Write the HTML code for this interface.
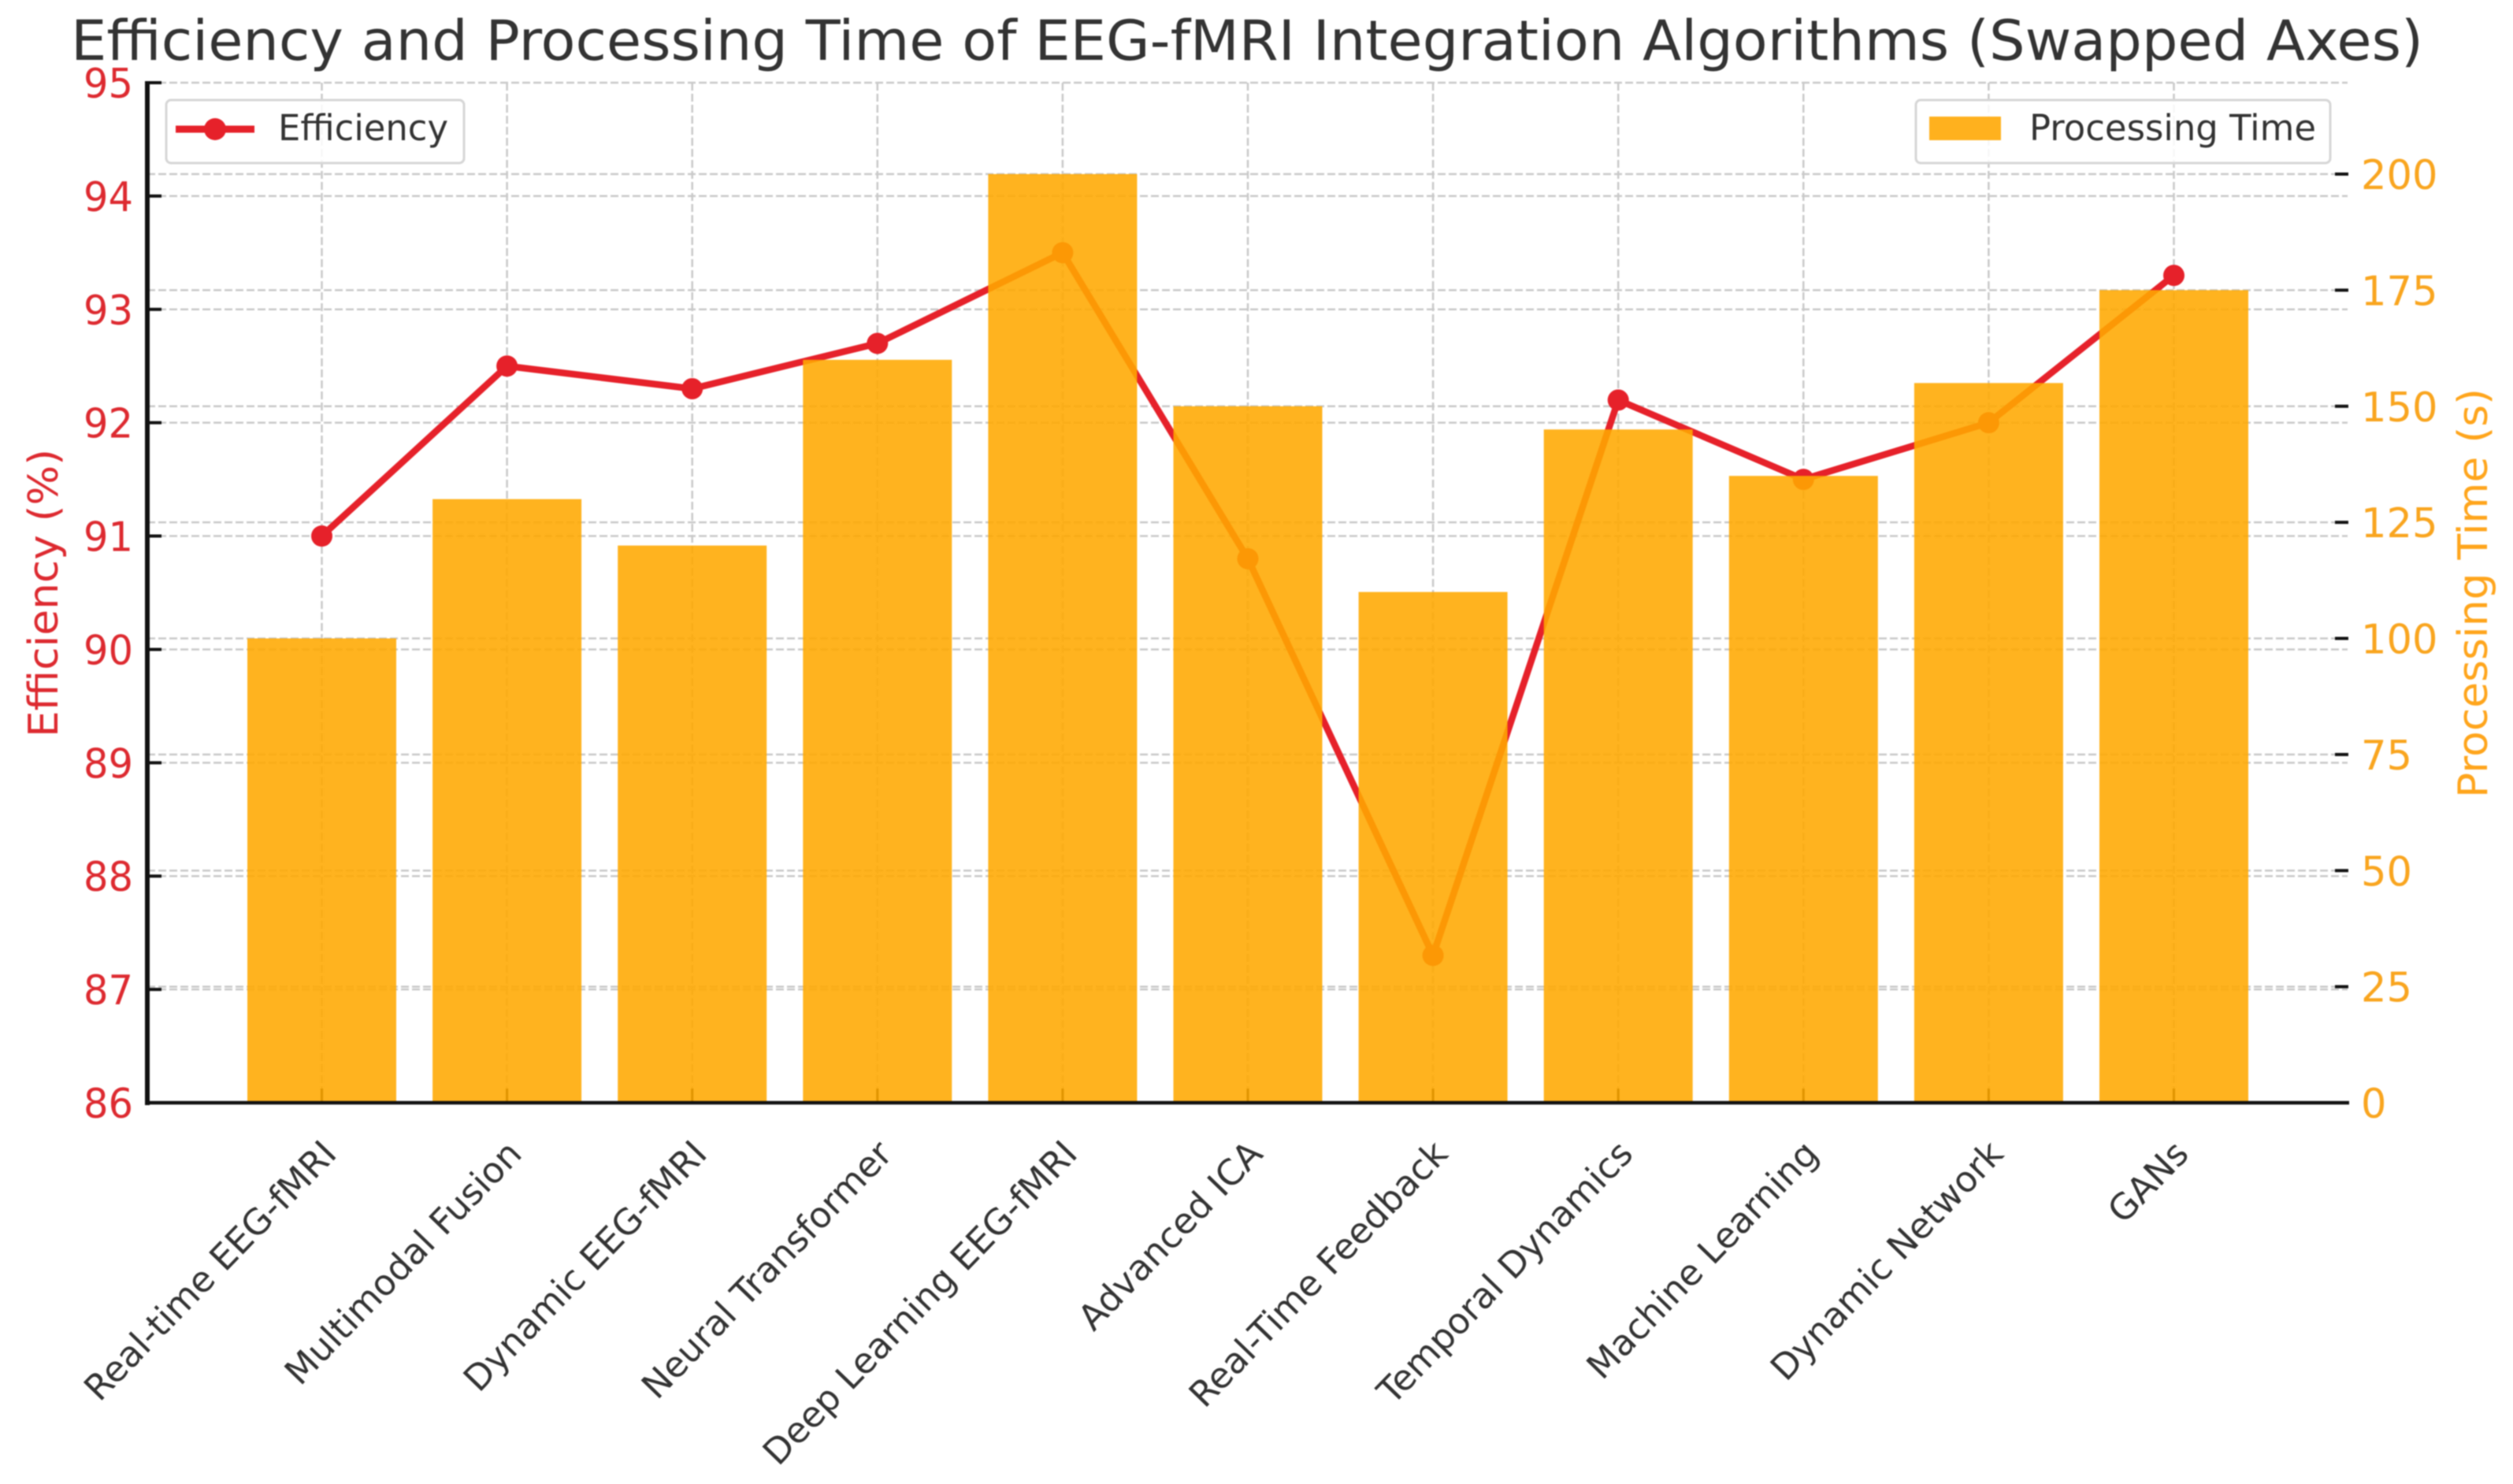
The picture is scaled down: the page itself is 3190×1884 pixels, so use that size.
<!DOCTYPE html>
<html>
<head>
<meta charset="utf-8">
<style>
html,body{margin:0;padding:0;background:#fff;width:3190px;height:1884px;overflow:hidden}
svg{display:block;filter:blur(0.7px)}
text{font-family:"DejaVu Sans","Liberation Sans",sans-serif}
</style>
</head>
<body>
<svg id="chart" width="3190" height="1884" viewBox="0 0 3190 1884" xmlns="http://www.w3.org/2000/svg">
  <text x="90" y="76" font-size="70" fill="#333" textLength="2986" lengthAdjust="spacingAndGlyphs">Efficiency and Processing Time of EEG-fMRI Integration Algorithms (Swapped Axes)</text>
  <g id="grid"></g>
  <g id="line"></g>
  <g id="xticks"></g>
  <g id="bars"></g>
  <g id="axes"></g>
  <text transform="translate(73,936) rotate(-90)" font-size="52" fill="#dd2a30" textLength="366" lengthAdjust="spacingAndGlyphs">Efficiency (%)</text>
  <text transform="translate(3157,1013) rotate(-90)" font-size="52" fill="#ffa51c" textLength="520" lengthAdjust="spacingAndGlyphs">Processing Time (s)</text>
  <g>
    <rect x="211" y="127" width="378" height="80" rx="6" fill="#fff" fill-opacity=".85" stroke="#d6d6d6" stroke-width="3"/>
    <line x1="223" y1="164" x2="323" y2="164" stroke="#e6212a" stroke-width="9"/>
    <circle cx="273" cy="164" r="14" fill="#e6212a"/>
    <text x="353" y="178" font-size="45" fill="#333" textLength="216" lengthAdjust="spacingAndGlyphs">Efficiency</text>
  </g>
  <g>
    <rect x="2432" y="127" width="526" height="80" rx="6" fill="#fff" fill-opacity=".85" stroke="#d6d6d6" stroke-width="3"/>
    <rect x="2449" y="148" width="91" height="30" fill="#ffb11e"/>
    <text x="2576" y="178" font-size="45" fill="#333" textLength="364" lengthAdjust="spacingAndGlyphs">Processing Time</text>
  </g>
</svg>
<script>
const categories = ["Real-time EEG-fMRI","Multimodal Fusion","Dynamic EEG-fMRI","Neural Transformer","Deep Learning EEG-fMRI","Advanced ICA","Real-Time Feedback","Temporal Dynamics","Machine Learning","Dynamic Network","GANs"];
const efficiency = [91,92.5,92.3,92.7,93.5,90.8,87.3,92.2,91.5,92,93.3];
const processingTime = [100,130,120,160,200,150,110,145,135,155,175];
const leftTicks = [86,87,88,89,90,91,92,93,94,95];
const rightTicks = [0,25,50,75,100,125,150,175,200];

const NS = "http://www.w3.org/2000/svg";
const plot = {left:187, right:2980, top:105, bottom:1400};
const x = i => 408.5 + i * 235.1;
const yLeft = v => plot.bottom - (v - 86) * (plot.bottom - plot.top) / 9;
const yRight = v => plot.bottom - v * 5.895;
const barW = 189;

function make(parent, tag, attrs, text){
  const el = document.createElementNS(NS, tag);
  for (const k in attrs) el.setAttribute(k, attrs[k]);
  if (text !== undefined) el.textContent = text;
  parent.appendChild(el);
  return el;
}
const grid = document.getElementById("grid");
const gridStyle = {stroke:"#c9c9c9","stroke-width":2.5,"stroke-dasharray":"10 4",fill:"none"};
leftTicks.forEach(t => {
  const el = make(grid, "line", Object.assign({x1:plot.left,x2:plot.right,y1:yLeft(t),y2:yLeft(t)}, gridStyle));
  
  
});
rightTicks.forEach(t => {
  const el = make(grid, "line", Object.assign({x1:plot.left,x2:plot.right,y1:yRight(t),y2:yRight(t)}, gridStyle));
  
  
});
categories.forEach((c,i) => {
  const el = make(grid, "line", Object.assign({x1:x(i),x2:x(i),y1:plot.top,y2:plot.bottom}, gridStyle));
  
  
});

const lineG = document.getElementById("line");
const path = make(lineG, "polyline", {points:efficiency.map((v,i)=>x(i)+","+yLeft(v)).join(" "),fill:"none",stroke:"#e6212a","stroke-width":8.5,"stroke-linejoin":"round"});


efficiency.forEach((v,i) => {
  const el = make(lineG, "circle", {cx:x(i),cy:yLeft(v),r:13.5,fill:"#e6212a"});
  
  
});

const xt = document.getElementById("xticks");
categories.forEach((c,i) => {
  const el = make(xt, "line", {x1:x(i),x2:x(i),y1:plot.bottom-18,y2:plot.bottom,stroke:"#000","stroke-width":3});
  
  
});

const barsG = document.getElementById("bars");
processingTime.forEach((v,i) => {
  const el = make(barsG, "rect", {x:x(i)-barW/2,y:yRight(v),width:barW,height:plot.bottom-yRight(v),fill:"#ffa800","fill-opacity":.88});
  
  
});

const axes = document.getElementById("axes");
const leftSpine = make(axes, "line", {x1:plot.left,x2:plot.left,y1:plot.top-2,y2:plot.bottom+3,stroke:"#111","stroke-width":6});


const bottomSpine = make(axes, "line", {x1:plot.left,x2:plot.right+2,y1:plot.bottom,y2:plot.bottom,stroke:"#111","stroke-width":4.5});


leftTicks.forEach(t => {
  const tick = make(axes, "line", {x1:plot.left,x2:205,y1:yLeft(t),y2:yLeft(t),stroke:"#111","stroke-width":4});
  
  
  const label = make(axes, "text", {x:169,y:yLeft(t)+19,"font-size":52,fill:"#dd2a30","text-anchor":"end",textLength:63,lengthAdjust:"spacingAndGlyphs"}, String(t));
  
  
});
rightTicks.forEach(t => {
  const tick = make(axes, "line", {x1:2964,x2:2981,y1:yRight(t),y2:yRight(t),stroke:"#111","stroke-width":4});
  
  
  const s = String(t);
  const label = make(axes, "text", {x:2997,y:yRight(t)+19,"font-size":52,fill:"#f9a51f",textLength:s.length*32.5,lengthAdjust:"spacingAndGlyphs"}, s);
  
  
});
categories.forEach((c,i) => {
  const ax = x(i) + 21, ay = 1467;
  const label = make(axes, "text", {transform:"translate("+ax+","+ay+") rotate(-46)","font-size":45,fill:"#333","text-anchor":"end"}, c);
  
  
});
</script>
</body>
</html>
